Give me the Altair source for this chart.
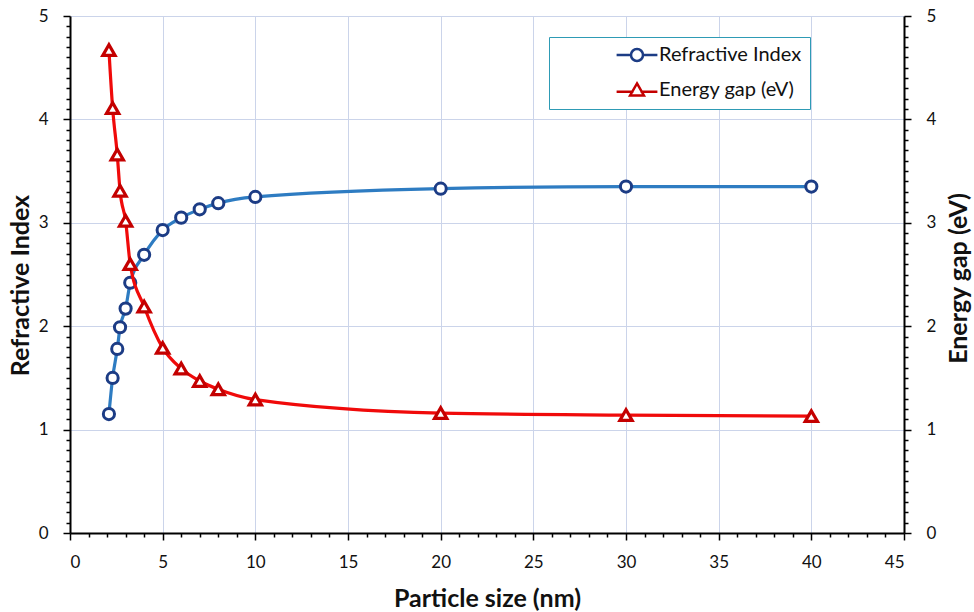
import altair as alt
import pandas as pd

# ---- data ----
particle_size = [2.1, 2.3, 2.55, 2.7, 3.0, 3.25, 4, 5, 6, 7, 8, 10, 20, 30, 40]
refractive_index = [1.15, 1.50, 1.78, 1.99, 2.17, 2.42, 2.69, 2.93, 3.05, 3.13, 3.19, 3.25, 3.33, 3.35, 3.35]
energy_gap = [4.67, 4.11, 3.66, 3.31, 3.02, 2.60, 2.19, 1.79, 1.59, 1.47, 1.39, 1.29, 1.16, 1.14, 1.13]
series_names = ["Refractive Index", "Energy gap (eV)"]

x_ticks = list(range(0, 46))
y_ticks = [round(i * 0.1, 1) for i in range(51)]

ri_df = pd.DataFrame({"size": particle_size, "value": refractive_index, "series": series_names[0]})
eg_df = pd.DataFrame({"size": particle_size, "value": energy_gap, "series": series_names[1]})
both_df = pd.concat([ri_df, eg_df], ignore_index=True)

FONT = "Lato"
BLUE_LINE = "#2e7cc2"
BLUE_MARK = "#1c3c85"
RED_LINE = "#f00a0a"
RED_MARK = "#c40000"
GRID = "#cbd4ea"

major_x = "datum.value % 5 === 0"
major_y = "abs(datum.value - round(datum.value)) < 0.001"

x_axis = alt.Axis(
    values=x_ticks,
    labelExpr=f"{major_x} ? format(datum.value, 'd') : ''",
    tickSize={"condition": {"test": major_x, "value": 7}, "value": 4},
    tickColor="black", tickWidth=1.5,
    grid=True, gridColor=GRID, gridWidth=1,
    gridOpacity={"condition": {"test": major_x, "value": 1}, "value": 0},
    domainColor="black", domainWidth=2,
    labelFont=FONT, labelFontSize=17, labelColor="#111", labelPadding=14,
    title="Particle size (nm)", titleFont=FONT, titleFontSize=25, titleFontWeight="bold",
    titleColor="#111", titleX=417, titleY=65, titleAlign="center", titleBaseline="middle",
)
x_enc = alt.X("size:Q", scale=alt.Scale(domain=[0, 45], nice=False, zero=False), axis=x_axis)


def y_axis(orient, title, grid, tx, ty):
    return alt.Axis(
        orient=orient,
        values=y_ticks,
        labelExpr=f"{major_y} ? format(datum.value, 'd') : ''",
        tickSize={"condition": {"test": major_y, "value": 7}, "value": 4},
        tickColor="black", tickWidth=1.5,
        grid=grid, gridColor=GRID, gridWidth=1,
        gridOpacity={"condition": {"test": major_y, "value": 1}, "value": 0},
        domainColor="black", domainWidth=2,
        labelFont=FONT, labelFontSize=17, labelColor="#111", labelPadding=15,
        title=title, titleFont=FONT, titleFontSize=25, titleFontWeight="bold", titleColor="#111",
        titleAngle=-90, titleX=tx, titleY=ty, titleAlign="center", titleBaseline="middle",
    )


y_left = alt.Y("value:Q", scale=alt.Scale(domain=[0, 5], nice=False),
               axis=y_axis("left", "Refractive Index", True, -50, 269))
y_right = alt.Y("value:Q", scale=alt.Scale(domain=[0, 5], nice=False),
                axis=y_axis("right", "Energy gap (eV)", False, 54, 262))

ri_line = alt.Chart(ri_df).mark_line(interpolate="monotone", color=BLUE_LINE, strokeWidth=3.2).encode(
    x=x_enc, y=y_left)
ri_pts = alt.Chart(ri_df).mark_point(shape="circle", filled=False, fill="white", fillOpacity=1,
                                     stroke=BLUE_MARK, strokeWidth=3, size=125, opacity=1).encode(
    x=x_enc, y=y_left)

circle_sym = "M-3.4,0H-1M1,0H3.4M-1,0A1,1 0 1,0 1,0A1,1 0 1,0 -1,0"
tri_sym = "M-3.4,0.3H-0.6M0.6,0.3H3.4M0,-1.1L1.15,0.9L-1.15,0.9Z"
NB = "\u00a0" * 12

legend_cfg = alt.Legend(
    title=None,
    orient="none", legendX=479, legendY=21,
    padding=8, symbolOffset=70, labelOffset=12, rowPadding=12,
    symbolSize=144, symbolStrokeWidth=2.5, symbolOpacity=1,
    symbolFillColor="white",
    labelFont=FONT, labelFontSize=20, labelColor="#111", labelLimit=400,
    labelExpr=f"datum.label + '{NB}'",
    strokeColor="#2e9bb5", fillColor="white",
)

legend_layer = alt.Chart(both_df).mark_point(opacity=0, filled=False).encode(
    x=x_enc, y=y_left,
    stroke=alt.Stroke("series:N",
                      scale=alt.Scale(domain=series_names, range=[BLUE_MARK, RED_MARK]),
                      legend=legend_cfg),
    shape=alt.Shape("series:N", scale=alt.Scale(domain=series_names, range=[circle_sym, tri_sym]),
                    legend=legend_cfg),
)

eg_line = alt.Chart(eg_df).mark_line(interpolate="monotone", color=RED_LINE, strokeWidth=3.2).encode(
    x=x_enc, y=y_right)
eg_pts = alt.Chart(eg_df).mark_point(shape="triangle-up", filled=False, fill="white", fillOpacity=1,
                                     stroke=RED_MARK, strokeWidth=3.2, size=150, opacity=1).encode(
    x=x_enc, y=y_right)

left_group = alt.layer(ri_line, ri_pts, legend_layer)
right_group = alt.layer(eg_line, eg_pts)

chart = alt.layer(left_group, right_group).resolve_scale(y="independent").properties(
    width=834, height=517,
    autosize=alt.AutoSizeParams(type="none"),
    padding={"left": 70, "top": 16, "right": 70, "bottom": 79},
    background="white",
).configure_view(stroke=None)

chart.save("out.html", embed_options={"renderer": "svg", "actions": False})
